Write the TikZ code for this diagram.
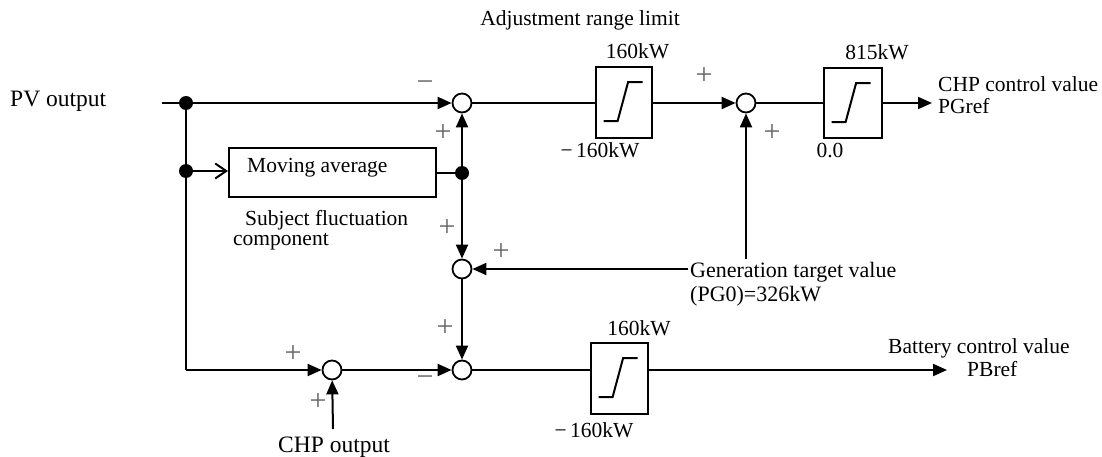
\documentclass[tikz,border=0pt]{standalone}
\usepackage{fontspec}
\setmainfont{Liberation Serif}
\usetikzlibrary{arrows.meta,calc}
\newcommand\satsym[1]{\draw[lw] ([shift={(8.5,55)}]#1.north west) -- ([shift={(22.5,55)}]#1.north west) -- ([shift={(33,16)}]#1.north west) -- ([shift={(47.5,16)}]#1.north west);}
\begin{document}
\begin{tikzpicture}[x=1pt,y=-1pt,
  lw/.style={line width=2pt},
  sum/.style={circle,draw,line width=1.8pt,minimum size=19pt,inner sep=0pt,fill=white},
  dotn/.style={circle,fill=black,minimum size=14pt,inner sep=0pt},
  satbox/.style={draw,line width=1.8pt,inner sep=0pt},
  lbl/.style={inner sep=0pt,font=\fontsize{21.5}{24}\selectfont},
  big/.style={font=\fontsize{23.5}{26}\selectfont},
  sgn/.style={inner sep=0pt,text=black!60,font=\fontsize{30}{30}\selectfont},
  arr/.style={-{Triangle[length=14pt,width=12pt]}},
  barb/.style={-{Straight Barb[length=11pt,width=15pt]}},
]
\useasboundingbox (0,0) rectangle (1102,457);
% summing points and junctions
\node[sum] (c1) at (462,103) {};
\node[sum] (c2) at (746,103) {};
\node[sum] (c3) at (462,269) {};
\node[sum] (c4) at (462,370) {};
\node[sum] (c5) at (332,370) {};
\node[dotn] (d1) at (186,103) {};
\node[dotn] (d2) at (186,171) {};
\node[dotn] (d3) at (462,173) {};
% blocks
\node[draw,lw,minimum width=207pt,minimum height=49pt,inner sep=0pt] (ma) at (332.5,172.5) {};
\node[satbox,minimum width=56pt,minimum height=71pt] (s1) at (624,102.5) {};
\node[satbox,minimum width=58pt,minimum height=70pt] (s2) at (853,103) {};
\node[satbox,minimum width=57pt,minimum height=71pt] (s3) at (619.5,378.5) {};
\satsym{s1}
\satsym{s2}
\satsym{s3}
% free ends
\coordinate (pvin) at (162,103);
\coordinate (corner) at (186,370);
\coordinate (pgout) at (932,103);
\coordinate (pbout) at (947,370);
\coordinate (gtl) at (688,269);
\coordinate (gtu) at (746,259);
\coordinate (chpin) at (333,429);
% connectors
\draw[lw] (pvin) -- (d1);
\draw[lw,arr] (d1) -- (c1);
\draw[lw] (d1) -- (d2) -- (corner);
\draw[lw,arr] (corner) -- (c5);
\draw[lw,barb] (d2) -- (d2 -| ma.west);
\draw[lw] (ma.east |- d3) -- (d3);
\draw[lw,arr] (d3) -- (c1);
\draw[lw,arr] (d3) -- (c3);
\draw[lw] (c1) -- (c1 -| s1.west);
\draw[lw,arr] (c1 -| s1.east) -- (c2);
\draw[lw] (c2) -- (c2 -| s2.west);
\draw[lw,arr] (c2 -| s2.east) -- (pgout);
\draw[lw,arr] (gtl) -- (c3);
\draw[lw,arr] (gtu) -- (c2);
\draw[lw,arr] (c3) -- (c4);
\draw[lw,arr] (c5) -- (c4);
\draw[lw,arr] (chpin) -- (c5);
\draw[lw] (c4) -- (c4 -| s3.west);
\draw[lw,arr] (c4 -| s3.east) -- (pbout);
% texts
\node[lbl,big,anchor=base west] (pv) at (10,107) {PV output};
\node[lbl,anchor=base east] (adj) at (680,26) {Adjustment range limit};
\node[lbl,anchor=base west] (matx) at (247,173) {Moving average};
\node[lbl,anchor=base west] (sub1) at (245,225) {Subject fluctuation};
\node[lbl,anchor=base west] (sub2) at (233,245) {component};
\node[lbl,font=\fontsize{22}{24}\selectfont,anchor=base west] (gt1) at (690,277) {Generation target value};
\node[lbl,font=\fontsize{22}{24}\selectfont,anchor=base west] (gt2) at (690,301) {(PG0)=326kW};
\node[lbl,anchor=base west] (cv1) at (938,92) {CHP control value};
\node[lbl,anchor=base west] (cv2) at (938,114) {PGref};
\node[lbl,anchor=base west] (bv1) at (888,353) {Battery control value};
\node[lbl,anchor=base west] (bv2) at (967,376) {PBref};
\node[lbl,big,anchor=base west] (chp) at (278,452) {CHP output};
\node[lbl,anchor=base] (s1hi) at (637.5,59) {160kW};
\node[lbl,anchor=base] (s1lo) at (600,158) {−\,160kW};
\node[lbl,anchor=base] (s2hi) at (877,60) {815kW};
\node[lbl,anchor=base] (s2lo) at (830,158) {0.0};
\node[lbl,anchor=base] (s3hi) at (639,335) {160kW};
\node[lbl,anchor=base] (s3lo) at (594,437) {−\,160kW};
% signs
\node[sgn] (g1) at (425,86) {−};
\node[sgn] (g2) at (443,133) {+};
\node[sgn] (g3) at (704,76) {+};
\node[sgn] (g4) at (772,133) {+};
\node[sgn] (g5) at (447,228) {+};
\node[sgn] (g6) at (501,252) {+};
\node[sgn] (g7) at (445,328) {+};
\node[sgn] (g8) at (425,381) {−};
\node[sgn] (g9) at (293,354) {+};
\node[sgn] (g10) at (318,402) {+};
\end{tikzpicture}
\end{document}
